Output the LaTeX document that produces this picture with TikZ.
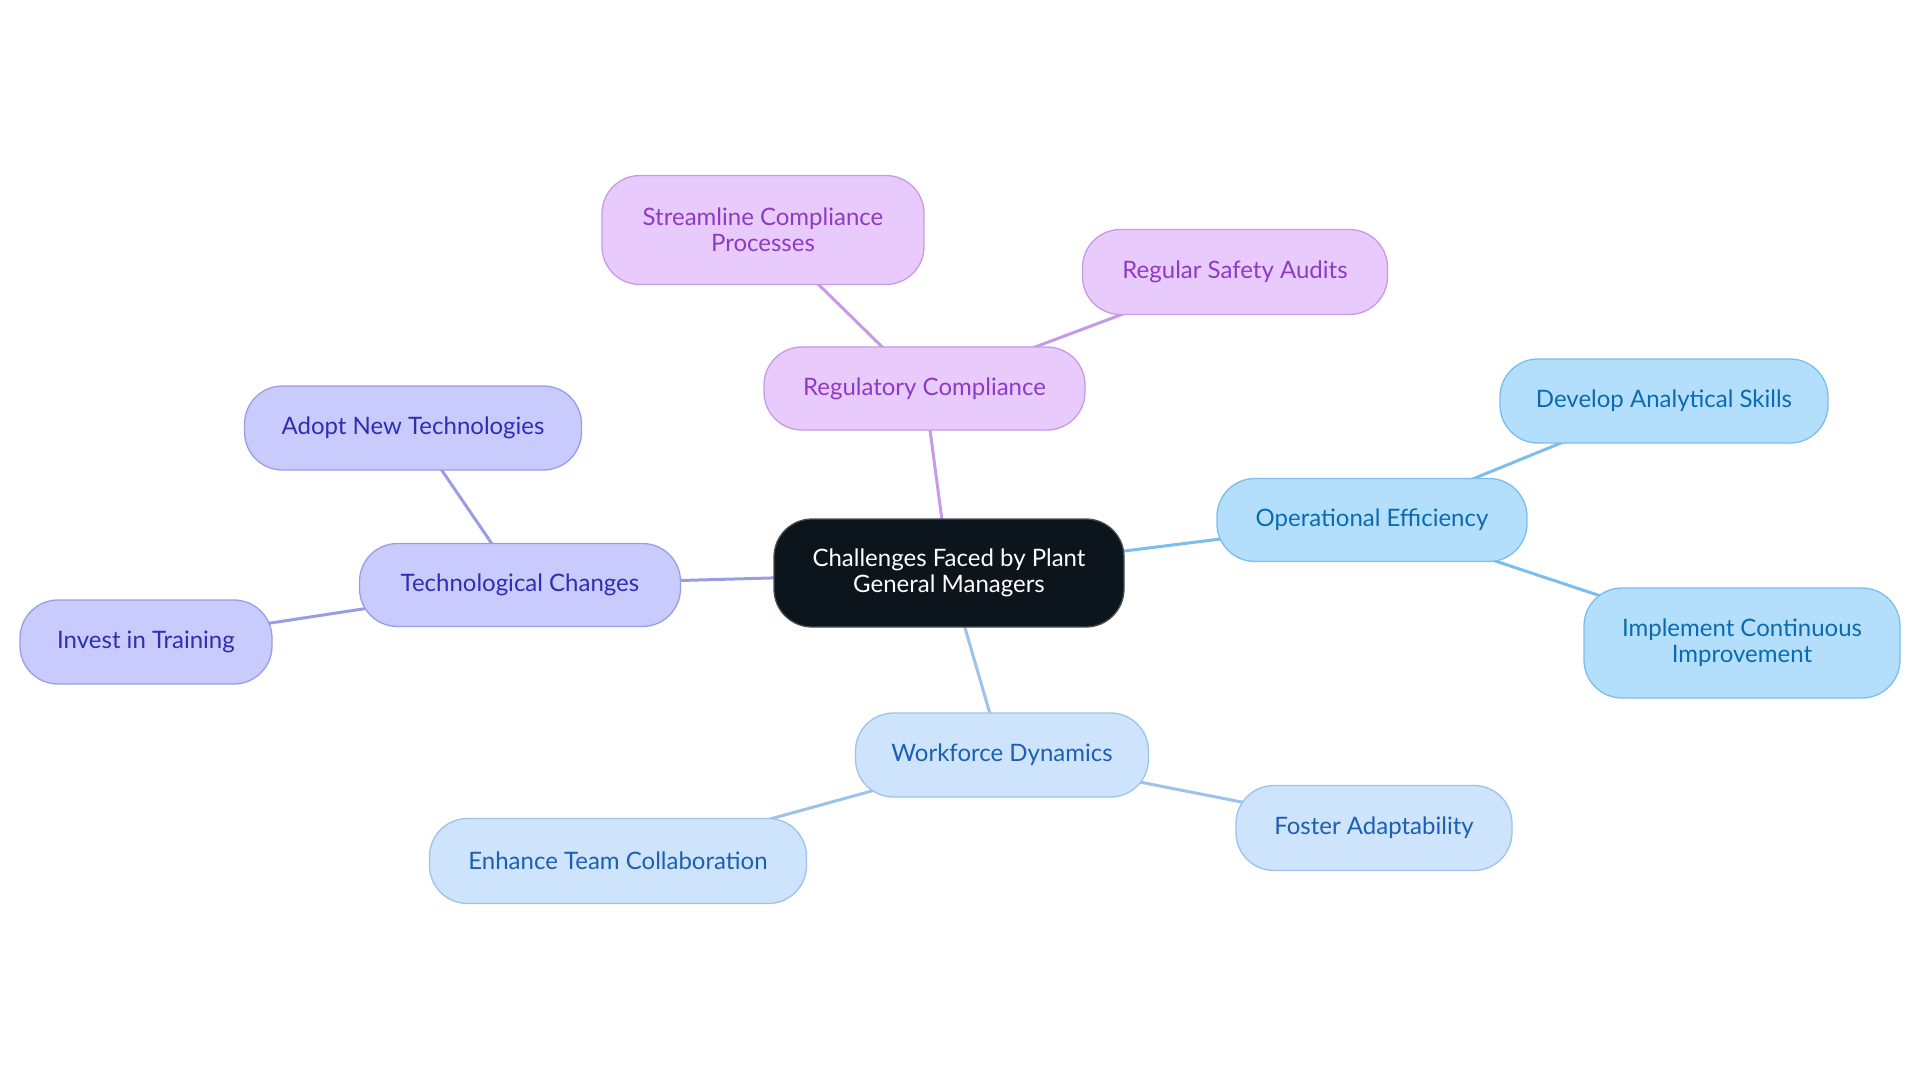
\documentclass[tikz,border=0pt]{standalone}
\usepackage{fontspec}
\setmainfont{Lato}
\usetikzlibrary{backgrounds}
\definecolor{pfill}{HTML}{E9CAFD}
\definecolor{pdraw}{HTML}{C79AE6}
\definecolor{ptext}{HTML}{8E3BC4}
\definecolor{bfill}{HTML}{B3DEFC}
\definecolor{bdraw}{HTML}{7DBDEB}
\definecolor{btext}{HTML}{0C6BB0}
\definecolor{ifill}{HTML}{C8CBFC}
\definecolor{idraw}{HTML}{9A9DE6}
\definecolor{itext}{HTML}{2E2EB0}
\definecolor{wfill}{HTML}{CEE3FC}
\definecolor{wdraw}{HTML}{9DC3EB}
\definecolor{wtext}{HTML}{1D5FB0}
\definecolor{cfill}{HTML}{0C141C}
\definecolor{cdraw}{HTML}{4A4F55}
\tikzset{
  box/.style={rounded corners=38pt, line width=1.3pt, inner sep=0pt, align=center,
    font=\fontsize{24}{26}\selectfont},
  pbox/.style={box, fill=pfill, draw=pdraw, text=ptext},
  bbox/.style={box, fill=bfill, draw=bdraw, text=btext},
  ibox/.style={box, fill=ifill, draw=idraw, text=itext},
  wbox/.style={box, fill=wfill, draw=wdraw, text=wtext},
  cbox/.style={box, fill=cfill, draw=cdraw, text=white},
  link/.style={line width=3pt},
}
\begin{document}
\begin{tikzpicture}[x=1pt,y=-1pt]
\useasboundingbox (0,0) rectangle (1920,1083);
\node[cbox, minimum width=350pt, minimum height=108pt] (c) at (949,573) {Challenges Faced by Plant\\General Managers};
\node[pbox, minimum width=321pt, minimum height=83pt] (rc) at (924.5,388.5) {Regulatory Compliance};
\node[pbox, minimum width=322pt, minimum height=109pt] (sc) at (763,230) {Streamline Compliance\\Processes};
\node[pbox, minimum width=305pt, minimum height=85pt] (rs) at (1235,272) {Regular Safety Audits};
\node[bbox, minimum width=310pt, minimum height=83pt] (oe) at (1372,520) {Operational Efficiency};
\node[bbox, minimum width=328pt, minimum height=84pt] (da) at (1664,401) {Develop Analytical Skills};
\node[bbox, minimum width=316pt, minimum height=110pt] (ic) at (1742,643) {Implement Continuous\\Improvement};
\node[ibox, minimum width=321pt, minimum height=83pt] (tc) at (520,585) {Technological Changes};
\node[ibox, minimum width=337pt, minimum height=84pt] (an) at (413,428) {Adopt New Technologies};
\node[ibox, minimum width=252pt, minimum height=84pt] (it) at (146,642) {Invest in Training};
\node[wbox, minimum width=293pt, minimum height=84pt] (wd) at (1002,755) {Workforce Dynamics};
\node[wbox, minimum width=377pt, minimum height=85pt] (et) at (618,861) {Enhance Team Collaboration};
\node[wbox, minimum width=276pt, minimum height=85pt] (fa) at (1374,828) {Foster Adaptability};
\begin{scope}[on background layer]
\draw[link, draw=pdraw] (c.center) -- (rc.center);
\draw[link, draw=pdraw] (rc.center) -- (sc.center);
\draw[link, draw=pdraw] (rc.center) -- (rs.center);
\draw[link, draw=bdraw] (c.center) -- (oe.center);
\draw[link, draw=bdraw] (oe.center) -- (da.center);
\draw[link, draw=bdraw] (oe.center) -- (ic.center);
\draw[link, draw=idraw] (c.center) -- (tc.center);
\draw[link, draw=idraw] (tc.center) -- (an.center);
\draw[link, draw=idraw] (tc.center) -- (it.center);
\draw[link, draw=wdraw] (c.center) -- (wd.center);
\draw[link, draw=wdraw] (wd.center) -- (et.center);
\draw[link, draw=wdraw] (wd.center) -- (fa.center);
\end{scope}
\end{tikzpicture}
\end{document}
